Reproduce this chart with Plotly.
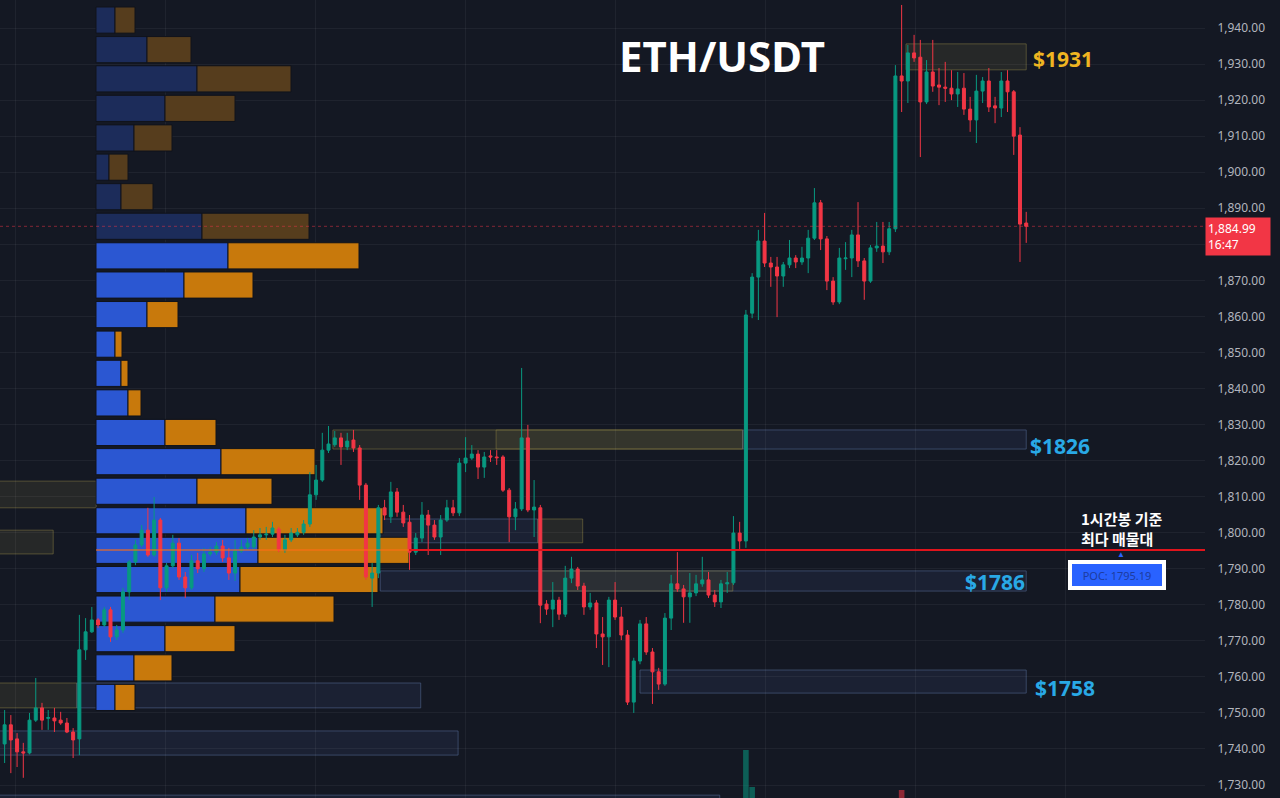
import plotly.graph_objects as go

# ---------------- candle data (1h ETH/USDT) ----------------
opens = [1741.4,1746.7,1742.8,1739.2,1738.9,1748.0,1751.4,1748.5,1748.6,1748.0,
         1747.2,1744.7,1742.8,1767.5,1772.5,1775.8,1774.4,1778.6,1771.1,1773.0,
         1783.6,1791.9,1796.6,1800.7,1793.8,1803.5,1784.7,1790.8,1797.1,1787.7,
         1784.7,1792.2,1790.0,1794.1,1794.6,1796.3,1793.0,1788.8,1794.9,1796.0,
         1796.0,1798.8,1799.4,1799.6,1801.0,1795.2,1798.0,1799.4,1800.1,1802.4,
         1810.5,1814.6,1822.9,1824.4,1826.3,1823.8,1825.7,1823.5,1813.2,1787.4,
         1788.8,1806.9,1804.4,1811.3,1805.7,1802.9,1794.6,1798.5,1804.9,1802.1,
         1798.8,1803.5,1806.9,1805.5,1819.3,1820.7,1821.8,1818.2,1821.3,1821.0,
         1821.0,1811.8,1804.4,1806.6,1826.3,1806.3,1806.9,1780.2,1778.8,1781.3,
         1777.4,1787.4,1789.9,1785.2,1779.4,1780.5,1771.9,1771.1,1781.3,1776.6,
         1771.6,1753.0,1764.4,1774.7,1766.9,1761.4,1758.0,1776.3,1785.8,1784.4,
         1782.2,1783.3,1785.8,1786.9,1782.7,1780.8,1785.8,1786.1,1799.9,1797.7,
         1860.9,1870.9,1880.9,1874.8,1873.7,1871.2,1874.3,1876.2,1875.1,1876.2,
         1881.7,1891.5,1881.5,1869.8,1864.0,1876.0,1876.2,1882.6,1875.4,1869.8,
         1879.0,1879.5,1877.9,1884.3,1926.7,1925.3,1933.1,1931.9,1919.5,1927.8,
         1924.2,1923.6,1923.3,1921.7,1923.3,1917.5,1914.5,1922.5,1925.3,1918.4,
         1917.8,1925.3,1922.3,1910.3,1885.9]
highs = [1750.8,1749.4,1744.4,1741.7,1750.0,1759.7,1752.8,1750.8,1751.4,1750.3,
         1748.6,1745.8,1777.2,1776.3,1779.4,1776.3,1779.4,1779.4,1774.4,1784.7,
         1792.4,1798.0,1802.1,1806.9,1809.9,1804.1,1791.6,1799.4,1798.5,1789.1,
         1793.8,1794.4,1795.8,1796.0,1797.4,1798.0,1795.8,1798.0,1798.0,1798.5,
         1800.7,1801.3,1801.6,1803.0,1801.6,1799.4,1801.3,1801.3,1803.5,1816.8,
         1818.8,1827.7,1829.6,1828.2,1827.7,1827.7,1828.5,1824.3,1813.8,1791.6,
         1807.7,1809.1,1814.1,1812.4,1807.7,1804.9,1799.9,1808.5,1806.3,1803.5,
         1804.9,1809.1,1809.1,1820.7,1826.5,1824.3,1822.9,1822.4,1822.9,1822.9,
         1821.5,1812.4,1808.5,1845.7,1829.9,1814.6,1807.7,1781.3,1786.3,1782.2,
         1790.8,1793.3,1790.5,1786.1,1783.3,1781.3,1776.6,1782.2,1786.3,1779.4,
         1773.0,1765.3,1775.8,1776.6,1768.0,1762.5,1777.7,1788.3,1794.6,1785.5,
         1788.8,1788.3,1793.3,1789.1,1784.1,1786.9,1789.1,1804.6,1803.0,1861.8,
         1872.0,1884.0,1888.7,1876.5,1876.5,1875.1,1881.2,1877.0,1879.3,1884.0,
         1895.6,1892.3,1882.3,1870.9,1879.0,1880.6,1884.0,1891.7,1876.2,1879.8,
         1886.2,1886.2,1886.2,1929.7,1946.4,1935.3,1938.1,1936.7,1931.1,1936.7,
         1928.9,1930.6,1928.3,1927.8,1927.5,1920.9,1927.0,1926.4,1928.9,1920.9,
         1927.8,1928.3,1922.8,1912.5,1889.0]
lows = [1736.1,1733.3,1735.0,1732.0,1738.5,1747.5,1745.3,1745.3,1744.7,1746.7,
        1744.4,1737.5,1738.3,1764.7,1772.2,1773.6,1773.8,1769.7,1770.2,1772.2,
        1781.3,1791.0,1796.0,1793.3,1793.3,1781.3,1783.6,1790.2,1786.9,1781.9,
        1784.1,1788.8,1789.1,1793.5,1793.8,1791.9,1786.9,1786.6,1794.4,1795.2,
        1795.2,1798.0,1798.0,1798.8,1794.6,1794.4,1797.4,1798.8,1799.4,1801.6,
        1809.1,1814.1,1822.1,1823.8,1818.8,1822.9,1822.4,1809.1,1786.9,1779.4,
        1787.4,1803.5,1802.7,1804.4,1801.6,1789.7,1793.8,1797.4,1793.8,1798.0,
        1793.8,1803.0,1804.6,1804.6,1816.8,1820.2,1814.9,1815.2,1819.6,1818.8,
        1811.3,1797.4,1800.7,1806.0,1805.7,1798.8,1774.9,1777.2,1773.8,1775.8,
        1776.6,1786.0,1784.1,1777.2,1778.6,1768.0,1763.3,1762.7,1775.8,1770.2,
        1752.2,1750.0,1763.5,1766.1,1752.5,1756.4,1757.5,1773.0,1783.6,1775.0,
        1775.0,1782.4,1785.0,1781.9,1779.4,1779.1,1783.3,1785.5,1795.2,1795.8,
        1859.5,1859.0,1873.7,1868.2,1859.8,1868.2,1873.4,1873.4,1874.3,1872.0,
        1881.2,1878.4,1867.3,1863.2,1863.4,1872.9,1870.9,1873.7,1864.6,1869.3,
        1877.9,1874.8,1877.0,1883.4,1916.7,1919.2,1930.6,1904.2,1918.9,1922.3,
        1918.6,1919.5,1920.0,1918.1,1915.9,1911.2,1908.1,1919.2,1916.7,1913.6,
        1915.3,1916.7,1904.8,1875.1,1880.4]
closes = [1746.7,1742.5,1739.2,1738.9,1748.0,1751.4,1748.0,1748.7,1747.8,1747.2,
          1744.7,1742.5,1767.5,1772.5,1775.8,1774.4,1778.6,1771.1,1773.0,1783.6,
          1791.9,1796.6,1800.7,1793.8,1803.5,1784.7,1790.8,1797.1,1787.7,1784.7,
          1792.2,1790.0,1794.1,1794.6,1796.3,1793.0,1788.8,1794.9,1796.0,1797.1,
          1798.8,1799.4,1799.6,1801.3,1795.2,1798.0,1799.9,1800.1,1802.4,1810.5,
          1814.6,1822.9,1824.6,1826.3,1823.8,1825.4,1823.5,1813.2,1787.7,1788.8,
          1806.9,1804.9,1811.3,1805.7,1802.7,1794.6,1798.5,1804.9,1802.1,1798.8,
          1803.5,1806.9,1805.5,1819.3,1820.7,1821.8,1818.2,1821.0,1821.0,1820.8,
          1811.8,1804.4,1806.6,1826.3,1806.3,1807.1,1779.9,1778.8,1781.3,1777.4,
          1787.4,1789.9,1785.2,1779.4,1780.5,1771.9,1771.1,1781.3,1776.6,1771.6,
          1753.0,1764.4,1774.7,1766.9,1761.4,1758.0,1776.3,1785.8,1784.4,1782.2,
          1783.3,1785.8,1786.9,1782.7,1780.8,1785.8,1786.1,1799.9,1797.7,1860.4,
          1870.9,1880.9,1874.8,1873.7,1871.2,1874.3,1876.2,1875.1,1876.2,1881.7,
          1891.5,1881.5,1869.8,1864.0,1876.2,1876.2,1882.6,1875.4,1869.8,1879.0,
          1879.5,1877.9,1884.3,1926.7,1925.3,1933.1,1931.7,1919.5,1927.8,1923.9,
          1923.6,1923.3,1921.7,1923.1,1917.5,1914.5,1922.5,1925.3,1918.1,1917.8,
          1925.3,1922.3,1910.0,1885.6,1884.99]
candle_idx = list(range(len(opens)))

# visible tail of the volume pane (only the tallest bars peek in)
vol_idx = [119, 120, 144]
vol_val = [88, 51, 48]
vol_up = [True, True, False]

# price axis ticks (the 1,880 label sits under the last-price tag)
tick_prices = [1730, 1740, 1750, 1760, 1770, 1780, 1790, 1800, 1810, 1820, 1830,
               1840, 1850, 1860, 1870, 1880, 1890, 1900, 1910, 1920, 1930, 1940]
hidden_tick = 1880

# ---------------- volume profile (24 rows) ----------------
profile_prices = [1942.2,1934.0,1925.9,1917.7,1909.5,1901.4,1893.2,1885.0,
                  1876.8,1868.7,1860.5,1852.3,1844.2,1836.0,1827.8,1819.7,
                  1811.5,1803.3,1795.1,1787.0,1778.8,1770.6,1762.5,1754.3]
profile_up   = [19,51,101,69,38,13,25,106,132,88,51,19,25,32,69,125,101,150,162,144,119,69,38,19]
profile_down = [20,44,94,70,38,19,32,107,131,69,31,7,7,13,51,94,75,137,151,138,119,70,38,20]
value_area = [False]*8 + [True]*16
poc_price = 1795.19
last_price = 1884.99
last_time = "16:47"

# zones: (start candle, end candle, low price, high price, kind)
zones = [
    (144.7, 164.0, 1928.4, 1935.6, "supply"),
    (52.7, 118.5, 1823.2, 1828.5, "supply"),
    (78.9, 118.5, 1823.2, 1828.5, "supply"),
    (118.5, 164.0, 1823.2, 1828.5, "demand"),
    (60.3, 85.6, 1797.2, 1803.8, "demand"),
    (85.6, 92.8, 1797.2, 1803.8, "supply"),
    (60.3, 164.0, 1783.8, 1789.4, "demand"),
    (85.9, 116.9, 1783.8, 1789.4, "supply"),
    (102.0, 164.0, 1755.5, 1761.9, "demand"),
    (-2, 14.7, 1806.9, 1814.3, "supply"),
    (-2, 7.8, 1794.1, 1800.7, "supply"),
    (-2, 11.6, 1751.4, 1758.3, "supply"),
    (11.6, 66.8, 1751.4, 1758.3, "demand"),
    (-2, 72.8, 1738.3, 1745.0, "demand"),
    (-2, 114.8, 1720.0, 1727.2, "demand"),
]

BG = "#141823"
GRID = "rgba(255,255,255,0.05)"
GREEN = "#089981"
RED = "#f23645"

fig = go.Figure()

# profile bars (base subplot, drawn beneath candles)
blue_c = ["#2b57d2" if v else "#1c2c5a" for v in value_area]
orange_c = ["#c8790c" if v else "#563d1d" for v in value_area]
fig.add_trace(go.Bar(y=profile_prices, x=profile_up, orientation="h", width=7.25,
                     marker=dict(color=blue_c, line=dict(color="#10131b", width=1)),
                     xaxis="x", yaxis="y", hoverinfo="skip"))
fig.add_trace(go.Bar(y=profile_prices, x=profile_down, base=profile_up, orientation="h", width=7.25,
                     marker=dict(color=orange_c, line=dict(color="#10131b", width=1)),
                     xaxis="x", yaxis="y", hoverinfo="skip"))

# candles
fig.add_trace(go.Candlestick(x=candle_idx, open=opens, high=highs, low=lows, close=closes,
                             xaxis="x2", yaxis="y",
                             increasing=dict(line=dict(color=GREEN, width=1), fillcolor=GREEN),
                             decreasing=dict(line=dict(color=RED, width=1), fillcolor=RED),
                             whiskerwidth=0, hoverinfo="skip"))

# volume tail
fig.add_trace(go.Bar(x=vol_idx, y=vol_val, width=0.9, xaxis="x2", yaxis="y3",
                     marker=dict(color=["rgba(8,153,129,0.55)" if u else "rgba(242,54,69,0.55)" for u in vol_up],
                                 line=dict(width=0)), hoverinfo="skip"))

shapes = []
for x0, x1, lo, hi, kind in zones:
    if kind == "supply":
        fill, line = "rgba(110,104,60,0.2)", "rgba(140,130,70,0.5)"
    else:
        fill, line = "rgba(60,80,125,0.18)", "rgba(80,100,140,0.6)"
    shapes.append(dict(type="rect", xref="x2", yref="y", x0=x0, x1=x1, y0=lo, y1=hi,
                       fillcolor=fill, line=dict(color=line, width=1), layer="below"))

poc_i = profile_prices.index(min(profile_prices, key=lambda p: abs(p - poc_price)))
poc_end = profile_up[poc_i] + profile_down[poc_i]
shapes.append(dict(type="line", xref="x", yref="y", x0=0, x1=poc_end, y0=poc_price, y1=poc_price,
                   line=dict(color="rgba(255,110,20,0.75)", width=1.5), layer="above"))
shapes.append(dict(type="line", xref="x", yref="y", x0=poc_end, x1=1109, y0=poc_price, y1=poc_price,
                   line=dict(color="#e0141c", width=2), layer="above"))
shapes.append(dict(type="line", xref="paper", yref="y", x0=0, x1=1, y0=last_price, y1=last_price,
                   line=dict(color="rgba(242,54,69,0.5)", width=1, dash="dot"), layer="above"))

W = 1205.0
H = 798.0
def px(x):
    return x / W
def py(y):
    return 1 - y / H

annotations = [
    dict(text="ETH/USDT", x=px(722), y=py(55), xref="paper", yref="paper", showarrow=False,
         xanchor="center", yanchor="middle",
         font=dict(family="Noto Sans", size=42, color="#ffffff", weight=700)),
    dict(text="$1931", x=px(1031), y=py(59), xref="paper", yref="paper", showarrow=False,
         xanchor="left", yanchor="middle",
         font=dict(family="Noto Sans", size=21, color="#efb521", weight=700)),
    dict(text="$1826", x=px(1028), y=py(446), xref="paper", yref="paper", showarrow=False,
         xanchor="left", yanchor="middle",
         font=dict(family="Noto Sans", size=21, color="#29a9e6", weight=700)),
    dict(text="$1786", x=px(963), y=py(582), xref="paper", yref="paper", showarrow=False,
         xanchor="left", yanchor="middle",
         font=dict(family="Noto Sans", size=21, color="#29a9e6", weight=700)),
    dict(text="$1758", x=px(1033), y=py(688), xref="paper", yref="paper", showarrow=False,
         xanchor="left", yanchor="middle",
         font=dict(family="Noto Sans", size=21, color="#29a9e6", weight=700)),
    dict(text="1시간봉 기준<br>최다 매물대", x=px(1079), y=py(528), xref="paper", yref="paper",
         showarrow=False, xanchor="left", yanchor="middle", align="left",
         font=dict(family="Noto Sans CJK KR", size=15, color="#ffffff", weight=700)),
    dict(text="POC: 1795.19", x=px(1117), y=py(575), xref="paper", yref="paper", showarrow=False,
         xanchor="center", yanchor="middle", bgcolor="#2962ff", bordercolor="#ffffff",
         borderwidth=4, borderpad=3, width=84, height=16,
         font=dict(family="Noto Sans", size=11, color="#1d3c9e")),
    dict(text="▲", x=px(1121), y=py(553), xref="paper", yref="paper", showarrow=False,
         xanchor="center", yanchor="middle", font=dict(size=8, color="#2962ff")),
    dict(text=f"{last_price:,.2f}<br>{last_time}", x=1, y=last_price, xref="paper", yref="y",
         showarrow=False, xanchor="left", yanchor="top", yshift=9, align="left",
         bgcolor=RED, borderpad=2, width=60,
         font=dict(family="Noto Sans", size=12, color="#ffffff")),
]

tick_text = ["" if t == hidden_tick else f"{t:,.2f}" for t in tick_prices]

fig.update_layout(
    width=1280, height=798,
    margin=dict(l=0, r=75, t=0, b=0),
    paper_bgcolor=BG, plot_bgcolor=BG,
    showlegend=False, barmode="overlay", boxgap=0.32,
    xaxis=dict(range=[-96, 1109], visible=False, fixedrange=True,
               rangeslider=dict(visible=False)),
    xaxis2=dict(overlaying="x", range=[-0.74, 192.7], showticklabels=False, showgrid=True,
                gridcolor=GRID, tick0=1.67, dtick=24.08, zeroline=False, showline=False,
                rangeslider=dict(visible=False)),
    yaxis=dict(side="right", range=[1726.4, 1947.77], tickvals=tick_prices, ticktext=tick_text,
               showgrid=True, gridcolor=GRID, zeroline=False, ticks="outside", ticklen=9,
               tickcolor=BG, tickfont=dict(family="Noto Sans", size=12, color="#b2b5be")),
    yaxis3=dict(overlaying="y", range=[40, 838], visible=False),
    shapes=shapes,
    annotations=annotations,
)

fig.write_html("out.html")
